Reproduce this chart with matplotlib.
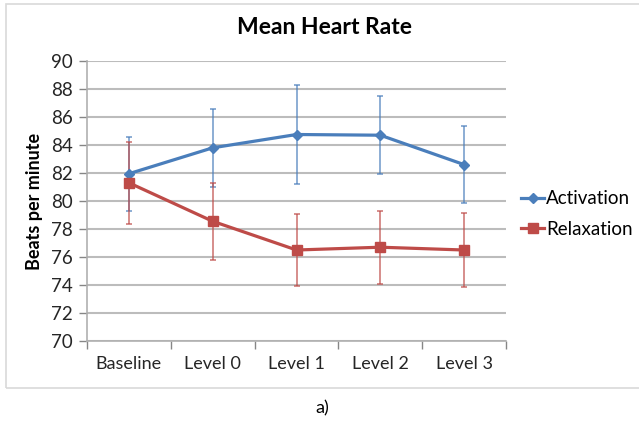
import numpy as np
import matplotlib.pyplot as plt
from matplotlib.patches import Rectangle

plt.rcParams['font.family'] = ['Lato', 'DejaVu Sans']

# datos
niveles = ['Baseline', 'Level 0', 'Level 1', 'Level 2', 'Level 3']
activacion = [81.95, 83.8, 84.75, 84.7, 82.6]
activacion_err = [2.65, 2.8, 3.55, 2.8, 2.75]
relajacion = [81.3, 78.55, 76.5, 76.7, 76.5]
relajacion_err = [2.95, 2.75, 2.6, 2.6, 2.65]

azul = '#4a7ebb'
rojo = '#be4b48'
gris = '#bcbcbc'

fig = plt.figure(figsize=(6.39, 4.21), dpi=100)
ax = fig.add_axes([0.1362, 0.19, 0.6557, 0.6651])

# marco del grafico (cortado a la derecha como en el original)
fig.patches.append(Rectangle((0.0094, 0.0784), 1.2, 0.912, transform=fig.transFigure,
                             fill=False, edgecolor='#d9d9d9', linewidth=1.2))

x = np.arange(len(niveles))

ax.errorbar(x, activacion, yerr=activacion_err, fmt='none', ecolor=azul, elinewidth=1.1,
            capsize=2.5, capthick=1.1, alpha=0.8, zorder=3)
ax.errorbar(x, relajacion, yerr=relajacion_err, fmt='none', ecolor=rojo, elinewidth=1.1,
            capsize=2.5, capthick=1.1, alpha=0.8, zorder=3)
ax.plot(x, activacion, color=azul, linewidth=2.3, marker='D', markersize=5.5, label='Activation', zorder=4)
ax.plot(x, relajacion, color=rojo, linewidth=2.3, marker='s', markersize=7.5, label='Relaxation', zorder=4)

ax.set_xlim(-0.5, len(niveles) - 0.5)
ax.set_ylim(70, 90)
ax.set_yticks(np.arange(70, 91, 2))
ax.set_xticks(x)
ax.set_xticklabels(niveles)
ax.set_xticks(np.arange(-0.5, len(niveles), 1), minor=True)
ax.tick_params(axis='x', which='major', length=0, pad=11, labelsize=13, colors='#262626')
ax.tick_params(axis='x', which='minor', length=6, width=1, color='#868686', direction='out')
ax.tick_params(axis='y', length=6, width=1, color='#868686', pad=4, labelsize=13.5, labelcolor='#262626')

ax.grid(axis='y', color=gris, linewidth=1.5)
ax.set_axisbelow(True)
for s in ['top', 'right']:
    ax.spines[s].set_visible(False)
for s in ['left', 'bottom']:
    ax.spines[s].set_color('#b0b0b0')
    ax.spines[s].set_linewidth(1.2)

ax.set_ylabel('Beats per minute', fontsize=13, fontweight='bold', labelpad=6)
fig.text(0.508, 0.935, 'Mean Heart Rate', ha='center', va='center', fontsize=16.5, fontweight='bold')
fig.text(0.505, 0.03, 'a)', ha='center', va='center', fontsize=13)

ax.legend(loc='center left', bbox_to_anchor=(521 / 639, 1 - 214 / 421), bbox_transform=fig.transFigure,
          frameon=False, fontsize=13.5, handlelength=1.25, handletextpad=0.08, labelspacing=0.7,
          borderpad=0, borderaxespad=0)

plt.savefig('out.png', dpi=100)
